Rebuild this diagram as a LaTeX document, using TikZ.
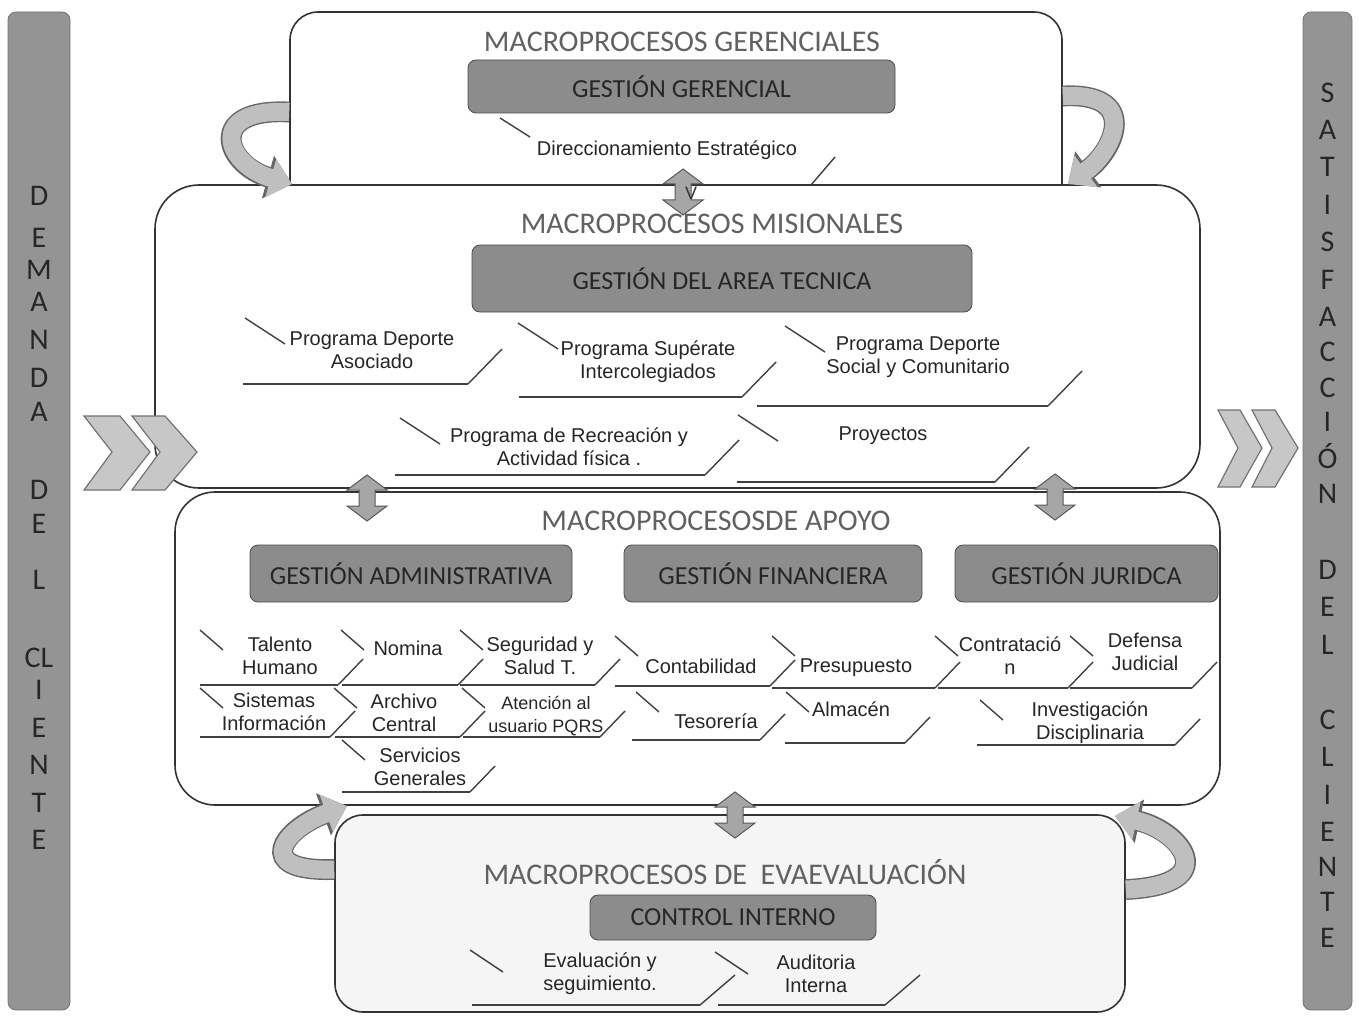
\documentclass[tikz,border=0pt]{standalone}
\usepackage{fontspec}
\setmainfont{Liberation Sans}
\newfontfamily\hdfont{Carlito}
\usetikzlibrary{arrows.meta}

\tikzset{
  procbox/.style={draw=black!80, line width=0.8pt, rounded corners=14pt, fill=white},
  darkbar/.style={draw=black!70, fill=black!45, rounded corners=4pt, text=black!85,
    font=\hdfont\fontsize{13}{15}\selectfont, inner sep=0pt},
  titletext/.style={text=black!62, font=\hdfont\fontsize{15}{17}\selectfont, inner sep=0pt},
  proctext/.style={align=center, inner sep=0pt, text=black!85, font=\fontsize{10}{11.5}\selectfont},
  procline/.style={draw=black!75, line width=0.7pt},
  baseline/.style={draw=black!75, line width=1pt},
  sidebar/.style={draw=black!55, fill=black!42, rounded corners=4pt},
  barletter/.style={text=black!85, font=\hdfont\fontsize{15}{16}\selectfont, inner sep=0pt},
  chev/.style={draw=black!55, fill=black!22, line width=0.6pt},
  twoway/.pic={
    \filldraw[fill=black!35, draw=black!65, line width=0.5pt]
      (0,-23) -- (20,-8) -- (8,-8) -- (8,8) -- (20,8) -- (0,23)
      -- (-20,8) -- (-8,8) -- (-8,-8) -- (-20,-8) -- cycle;
  },
  turn/.style={line width=9pt, draw=black!25, -{Triangle[width=19pt,length=11pt]},
    preaction={draw=black!60, line width=10.4pt, -{Triangle[width=21.5pt,length=12.5pt]}}}
}

% process item: name, text pos, backslash start, left, right, bottom, text
\newcommand{\procitem}[7]{%
  \node[proctext] (#1) at (#2) {#7};
  \draw[procline] (#3) -- ++(\bsx,\bsy);
  \draw[baseline] (#4,#6) -- (#5,#6);
  \draw[procline] (#5,#6) -- ++(\slx,-\sly);
}
\def\bsx{40}\def\bsy{26}\def\slx{34}\def\sly{35}

\begin{document}
\begin{tikzpicture}[x=0.5pt,y=-0.5pt]
\useasboundingbox (0,0) rectangle (1359,1016);

% side bars
\node[sidebar, minimum width=31pt, minimum height=499pt] (dem) at (39,511) {};
\node[sidebar, minimum width=24.5pt, minimum height=499pt] (sat) at (1327.5,511) {};
\foreach \l/\yy in {D/196,E/238,M/270,A/302,N/340,D/378,A/412,D/490,E/524,L/580,CL/658,I/690,E/728,N/765,T/803,E/840}
  \node[barletter] (dem-\yy) at (39,\yy) {\l};
\foreach \l/\yy in {S/93,A/130,T/167,I/205,S/242,F/280,A/317,C/352,C/388,I/422,Ó/456,N/494,D/570,E/607,L/645,C/720,L/757,I/795,E/832,N/867,T/902,E/938}
  \node[barletter] (sat-\yy) at (1327.5,\yy) {\l};

% gerenciales
\node[procbox, minimum width=386pt, minimum height=109pt] (ger) at (676,121) {};
\node[titletext] (tger) at (682,42) {MACROPROCESOS GERENCIALES};
\node[darkbar, minimum width=213.5pt, minimum height=26.5pt] (gger) at (681.5,86.5) {GESTIÓN GERENCIAL};
\def\bsx{30}\def\bsy{19}\def\slx{30}\def\sly{35}
\procitem{dire}{667,150}{500,118}{500}{805}{192}{Direccionamiento Estratégico}

% misionales
\node[procbox, rounded corners=22pt, minimum width=522.5pt, minimum height=151.5pt] (mis) at (677.5,336.5) {};
\node[titletext] (tmis) at (712,224) {MACROPROCESOS MISIONALES};
\node[darkbar, minimum width=250pt, minimum height=33.5pt] (gtec) at (722,278.5) {GESTIÓN DEL AREA TECNICA};
\def\bsx{40}\def\bsy{26}\def\slx{34}\def\sly{35}
\procitem{asoc}{372,350}{245,318}{243}{468}{384}{Programa Deporte\\Asociado}
\procitem{supe}{648,362}{518,323}{519}{742}{397}{Programa Supérate\\Intercolegiados}
\procitem{soci}{918,357}{785,326}{757}{1048}{406}{Programa Deporte\\Social y Comunitario}
\procitem{recr}{569,447}{400,418}{395}{705}{475}{Programa de Recreación y\\Actividad física .}
\procitem{proy}{883,436}{738,415}{737}{995}{482}{Proyectos}

% apoyo
\node[procbox, rounded corners=20pt, minimum width=522.5pt, minimum height=156.5pt] (apo) at (697.5,648.5) {};
\node[titletext] (tapo) at (716,521) {MACROPROCESOSDE APOYO};
\node[darkbar, minimum width=161pt, minimum height=28.5pt] (gadm) at (411,573.5) {GESTIÓN ADMINISTRATIVA};
\node[darkbar, minimum width=149pt, minimum height=28.5pt] (gfin) at (773,573.5) {GESTIÓN FINANCIERA};
\node[darkbar, minimum width=131.5pt, minimum height=28.5pt] (gjur) at (1086.5,573.5) {GESTIÓN JURIDCA};
\def\bsx{23}\def\bsy{20}\def\slx{25}\def\sly{26}
\procitem{tale}{280,656}{200,630}{200}{338}{685}{Talento\\Humano}
\procitem{nomi}{408,648}{341,630}{342}{458}{685}{Nomina}
\procitem{segu}{540,656}{460,630}{460}{595}{685}{Seguridad y\\Salud T.}
\procitem{cont}{701,666}{615,636}{615}{770}{686}{Contabilidad}
\procitem{pres}{856,668}{772,636}{772}{935}{688}{Presupuesto}
\procitem{ctto}{1010,656}{935,636}{938}{1068}{688}{Contratació\\n}
\procitem{defe}{1145,652}{1070,636}{1070}{1192}{688}{Defensa\\Judicial}
\procitem{sist}{274,712}{200,688}{200}{330}{737}{Sistemas\\Información}
\procitem{arch}{404,713}{334,688}{335}{460}{737}{Archivo\\Central}
\procitem{aten}{546,716}{462,688}{463}{600}{737}{\fontsize{9}{11}\selectfont Atención al\\\fontsize{9}{11}\selectfont usuario PQRS}
\procitem{teso}{716,721}{636,692}{632}{760}{740}{Tesorería}
\procitem{alma}{851,709}{786,692}{785}{905}{743}{Almacén}
\procitem{inve}{1090,723}{980,700}{977}{1175}{745}{Investigación\\Disciplinaria}
\procitem{serv}{420,767}{342,740}{342}{470}{792}{Servicios\\Generales}

% evaluacion
\node[procbox, fill=black!4, minimum width=395pt, minimum height=98.5pt] (eva) at (730,913.5) {};
\node[titletext] (teva) at (725,872) {MACROPROCESOS DE \ EVAEVALUACIÓN};
\node[darkbar, minimum width=143pt, minimum height=22.5pt] (gctl) at (733,917.5) {CONTROL INTERNO};
\def\bsx{33}\def\bsy{22}\def\slx{35}\def\sly{30}
\procitem{eval}{600,974}{470,950}{472}{700}{1005}{Evaluación y\\seguimiento.}
\procitem{audi}{816,974}{715,952}{718}{885}{1005}{Auditoria\\Interna}

% chevrons
\filldraw[chev] (84,416) -- (120,416) -- (150,452) -- (120,490) -- (84,490) -- (112,452) -- cycle;
\filldraw[chev] (132,416) -- (165,416) -- (197,452) -- (165,490) -- (132,490) -- (160,452) -- cycle;
\filldraw[chev] (1218,410) -- (1240,410) -- (1262,448) -- (1240,487) -- (1218,487) -- (1238,448) -- cycle;
\filldraw[chev] (1252,410) -- (1275,410) -- (1298,448) -- (1275,487) -- (1252,487) -- (1272,448) -- cycle;

% two-way arrows
\pic (gm) at (683,192) {twoway};
\node[font=\fontsize{9}{9}\selectfont, text=black!80, inner sep=0pt] (vmark) at (691,193) {V};
\pic (ma1) at (367,498) {twoway};
\pic (ma2) at (1055,497) {twoway};
\pic (ae) at (735,815) {twoway};

% turning arrows
\coordinate (tlend) at (292,184);
\coordinate (trend) at (1068,184);
\coordinate (blend) at (347,806);
\coordinate (brend) at (1115,816);
\draw[turn] ([yshift=4.5pt]ger.west) .. controls (205,108) and (225,165) .. (tlend);
\draw[turn] ([yshift=12.5pt]ger.east) .. controls (1140,92) and (1115,150) .. (trend);
\draw[turn] ([yshift=22pt]eva.west) .. controls (250,872) and (285,828) .. (blend);
\draw[turn] ([yshift=12pt]eva.east) .. controls (1225,885) and (1180,830) .. (brend);

\end{tikzpicture}
\end{document}
